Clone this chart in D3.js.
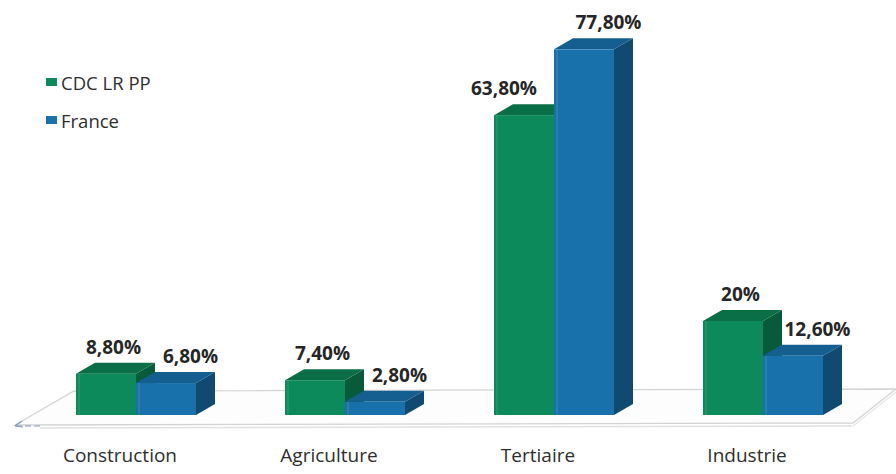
<!DOCTYPE html>
<html><head><meta charset="utf-8">
<script src="https://cdn.jsdelivr.net/npm/d3@7"></script>
<style>
html,body{margin:0;padding:0;background:#fff;}
svg{display:block;}
</style></head>
<body>
<script>
const categories = ["Construction", "Agriculture", "Tertiaire", "Industrie"];
const seriesNames = ["CDC LR PP", "France"];
const cdcValues = [8.8, 7.4, 63.8, 20];
const franceValues = [6.8, 2.8, 77.8, 12.6];
const valueLabels = [["8,80%", "7,40%", "63,80%", "20%"], ["6,80%", "2,80%", "77,80%", "12,60%"]];

const W = 896, H = 474;
const colors = [
  {front: "#0c8a5c", top: "#0a6e47", side: "#075a3a"},
  {front: "#1871ab", top: "#145f8f", side: "#104a70"}
];
const depthX = 19, depthY = -11;

const svg = d3.select("body").append("svg").attr("width", W).attr("height", H);

const x0 = d3.scaleBand().domain(categories).range([76, 76 + 3 * 209 + 120]).paddingInner(89 / 209).paddingOuter(0);
const x1 = d3.scaleBand().domain(seriesNames).range([0, x0.bandwidth()]);
const y = d3.scaleLinear().domain([0, 80]).range([415, 39]);

// floor
const floor = svg.append("g");
floor.append("polygon")
  .attr("points", [[15, 425], [853, 423], [896, 389], [74, 391]].map(p => p.join(",")).join(" "))
  .attr("fill", "#fdfdfd").attr("stroke", "#d3d3d3").attr("stroke-width", 1.3);
floor.append("line").attr("x1", 40).attr("y1", 428).attr("x2", 852).attr("y2", 426)
  .attr("stroke", "#e0e0e0").attr("stroke-width", 1.5);
floor.append("line").attr("x1", 853).attr("y1", 426).attr("x2", 896).attr("y2", 392)
  .attr("stroke", "#e6e6e6").attr("stroke-width", 1.2);
floor.append("line").attr("x1", 16).attr("y1", 426).attr("x2", 42).attr("y2", 426)
  .attr("stroke", "#8597bb").attr("stroke-width", 1.2).attr("stroke-dasharray", "6,3");
floor.append("path").attr("d", "M15,426 L22,421 M15,426 L23,427")
  .attr("stroke", "#8597bb").attr("stroke-width", 1.2).attr("fill", "none");

const data = [cdcValues, franceValues];
const bars = svg.append("g");
categories.forEach((c, ci) => {
  data.forEach((vals, si) => {
    const xl = x0(c) + x1(seriesNames[si]);
    const xr = xl + x1.bandwidth();
    const yt = y(vals[ci]);
    const yb = y(0);
    const g = bars.append("g");
    const col = colors[si];
    g.append("polygon").attr("points", [[xr, yb], [xr + depthX, yb + depthY], [xr + depthX, yt + depthY], [xr, yt]].map(p => p.join(",")).join(" "))
      .attr("fill", col.side);
    g.append("polygon").attr("points", [[xl, yt], [xl + depthX, yt + depthY], [xr + depthX, yt + depthY], [xr, yt]].map(p => p.join(",")).join(" "))
      .attr("fill", col.top);
    g.append("rect").attr("x", xl).attr("y", yt).attr("width", xr - xl).attr("height", yb - yt)
      .attr("fill", col.front);
    g.append("line").attr("x1", xl + 3).attr("x2", xl + 3).attr("y1", yt).attr("y2", yb)
      .attr("stroke", "#ffffff").attr("stroke-opacity", 0.08).attr("stroke-width", 2);
  });
});

// value labels
const labelShift = [-2, 15];
const labels = svg.append("g").attr("font-family", "'Open Sans', sans-serif").attr("font-weight", "bold")
  .attr("font-size", 19).attr("fill", "#262626").attr("text-anchor", "middle");
categories.forEach((c, ci) => {
  data.forEach((vals, si) => {
    let xc = x0(c) + x1(seriesNames[si]) + x1.bandwidth() / 2 + depthX / 2 + labelShift[si];
    const t = labels.append("text").attr("y", y(vals[ci]) + depthY - 9).text(valueLabels[si][ci]);
    // avoid colliding with a taller neighbouring bar on the right
    if (si === 0 && franceValues[ci] > cdcValues[ci]) {
      const w = t.node().getComputedTextLength();
      const limit = x0(c) + x1(seriesNames[1]) - 17;
      xc = Math.min(xc, limit - w / 2);
    }
    t.attr("x", xc);
  });
});

// category labels
const cats = svg.append("g").attr("font-family", "'Open Sans', sans-serif").attr("font-size", 19)
  .attr("fill", "#2e2e2e").attr("text-anchor", "middle");
categories.forEach(c => {
  cats.append("text").attr("x", x0(c) + x0.bandwidth() / 2 - 16).attr("y", 462).text(c);
});

// legend
const legend = svg.append("g").attr("font-family", "'Open Sans', sans-serif").attr("font-size", 18.5).attr("fill", "#2e2e2e");
seriesNames.forEach((s, i) => {
  const ly = 90 + i * 38;
  legend.append("rect").attr("x", 46).attr("y", ly - 12).attr("width", 11).attr("height", 8).attr("fill", colors[i].front);
  legend.append("text").attr("x", 61).attr("y", ly).text(s);
});
</script>
</body></html>
